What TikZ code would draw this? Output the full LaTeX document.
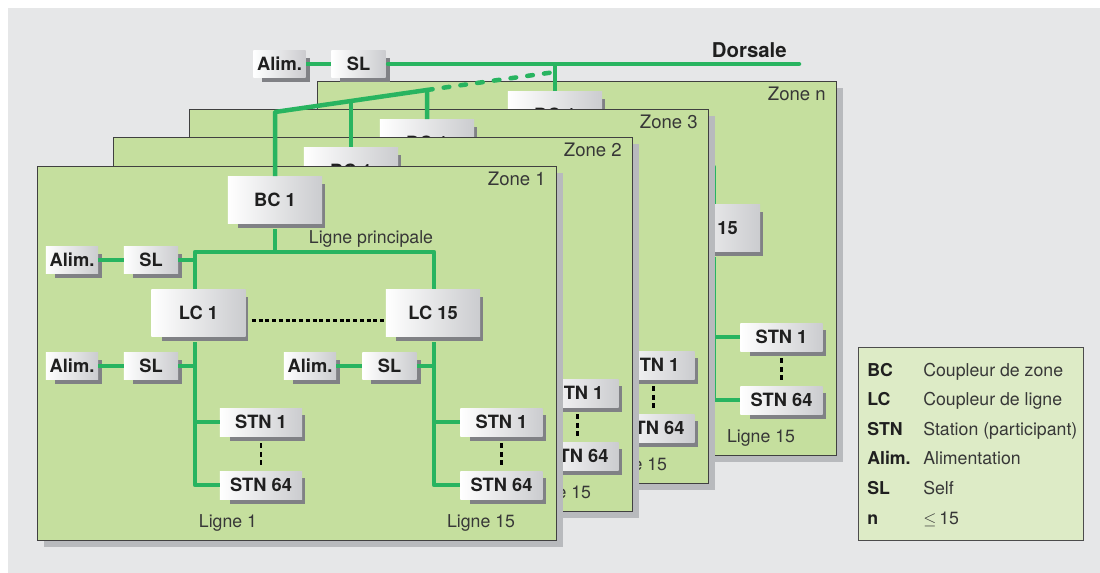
\documentclass[tikz,border=0pt]{standalone}
\usepackage{fontspec}
\setmainfont{TeX Gyre Heros}
\definecolor{bggray}{RGB}{230,231,232}
\definecolor{zonegreen}{RGB}{197,223,158}
\definecolor{legendgreen}{RGB}{221,235,198}
\definecolor{zoneshadow}{RGB}{184,186,189}
\definecolor{boxgray}{RGB}{203,204,207}
\definecolor{boxshadow}{RGB}{128,129,133}
\definecolor{busgreen}{RGB}{40,180,96}
\definecolor{inkgray}{RGB}{55,55,55}
\usetikzlibrary{shadows}
\tikzset{
	unit/.style={rectangle, inner sep=0pt, left color=white, right color=boxgray, text=black!88, font=\fontsize{13}{15}\selectfont\bfseries, drop shadow={shadow xshift=5pt, shadow yshift=-4.6pt, shadow scale=0.92, fill=boxshadow, opacity=1}},
	coupler/.style={unit, minimum width=2.35cm, minimum height=1.175cm},
	station/.style={unit, minimum width=2.05cm, minimum height=0.7cm},
	supply/.style={unit, minimum width=1.3cm, minimum height=0.66cm},
	choke/.style={unit, minimum width=1.35cm, minimum height=0.66cm},
	zonebox/.style={draw=black!75, line width=0.7pt, fill=zonegreen},
	zonelabel/.style={anchor=base east, inner sep=0pt, text=inkgray, font=\fontsize{13.2}{15}\selectfont},
	linelabel/.style={anchor=base, inner sep=0pt, text=inkgray, font=\fontsize{12.6}{14}\selectfont},
	bus/.style={draw=busgreen, line width=3.2pt, line join=round},
	dots/.style={draw=black, line width=2.1pt, dash pattern=on 2.8pt off 2pt},
	vdots/.style={draw=black, line width=2.1pt, dash pattern=on 3.5pt off 2.6pt, shorten <=5pt, shorten >=3pt},
	legkey/.style={anchor=base west, inner sep=0pt, text=black!88, font=\fontsize{12.6}{15}\selectfont\bfseries},
	legtext/.style={anchor=base west, inner sep=0pt, text=inkgray, font=\fontsize{12.6}{15}\selectfont},
}
\begin{document}
\begin{tikzpicture}[x=0.025cm, y=-0.025cm]
	\useasboundingbox (0,0) rectangle (1100,573);
	\fill[bggray] (8,8) rectangle (1100,573);

	% zones, back to front
	\foreach \z/\dx/\dy/\zname in {n/280/-85/Zone n, 3/152/-57/Zone 3, 2/76/-29/Zone 2, 1/0/0/Zone 1}{
		\begin{scope}[shift={(\dx,\dy)}]
			\fill[zoneshadow] (44,173) rectangle (563,547);
			\draw[zonebox] (37,166) rectangle (556,540);
			\node[zonelabel] (zl\z) at (546,185) {\zname};
			\coordinate (lpA\z) at (195,252);
			\coordinate (lpB\z) at (434,252);
			\node[coupler] (bc\z) at (275,200) {BC 1};
			\node[coupler] (lcA\z) at (198.5,313) {LC 1};
			\node[coupler] (lcB\z) at (433,313) {LC 15};
			\node[supply] (alimA\z) at (72,260) {Alim.};
			\node[choke] (slA\z) at (151,260) {SL};
			\node[supply] (alimC\z) at (72,366) {Alim.};
			\node[choke] (slC\z) at (151,366) {SL};
			\node[supply] (alimD\z) at (310,366) {Alim.};
			\node[choke] (slD\z) at (389.5,366) {SL};
			\node[station] (stnA1\z) at (261,422) {STN 1};
			\node[station] (stnA64\z) at (261,485) {STN 64};
			\node[station] (stnB1\z) at (501.5,422) {STN 1};
			\node[station] (stnB64\z) at (501.5,485) {STN 64};
			\node[linelabel] (lp\z) at (371,243) {Ligne principale};
			\node[linelabel] (lgA\z) at (228,527) {Ligne 1};
			\node[linelabel] (lgB\z) at (481,527) {Ligne 15};
			% bus lines
			\draw[bus, shorten <=4pt] (bc\z.south) -- (bc\z.south |- lpA\z);
			\draw[bus] (lcA\z.north -| lpA\z) -- (lpA\z) -- (lpB\z) -- (lcB\z.north -| lpB\z);
			\draw[bus, shorten <=4pt] (lcA\z.south -| lpA\z) -- (stnA64\z.west -| lpA\z) -- (stnA64\z.west);
			\draw[bus] (stnA1\z.west -| lpA\z) -- (stnA1\z.west);
			\draw[bus, shorten <=4pt] (lcB\z.south -| lpB\z) -- (stnB64\z.west -| lpB\z) -- (stnB64\z.west);
			\draw[bus] (stnB1\z.west -| lpB\z) -- (stnB1\z.west);
			\draw[bus] (alimA\z) -- (slA\z);
			\draw[bus] (slA\z) -- (slA\z -| lpA\z);
			\draw[bus] (alimC\z) -- (slC\z);
			\draw[bus] (slC\z) -- (slC\z -| lpA\z);
			\draw[bus] (alimD\z) -- (slD\z);
			\draw[bus] (slD\z) -- (slD\z -| lpB\z);
			\draw[dots] ([xshift=4.3pt, yshift=-5pt]lcA\z.east) -- ([yshift=-5pt]lcB\z.west);
			\draw[vdots] (stnA1\z.south) -- (stnA64\z.north);
			\draw[vdots] (stnB1\z.south) -- (stnB64\z.north);
		\end{scope}
	}

	% backbone
	\node[supply] (alimT) at (279.5,64) {Alim.};
	\node[choke] (slT) at (358.5,64) {SL};
	\coordinate (dors) at (799,64);
	\node[anchor=base east, inner sep=0pt, text=black!88, font=\fontsize{14.5}{16}\selectfont\bfseries] (dorsale) at (787,57) {Dorsale};
	\draw[bus] (alimT) -- (slT);
	\draw[bus, line cap=round, shorten <=1.6pt] (slT) -- (dors);
	\coordinate (j1) at (275,112);
	\coordinate (j2) at (351,101);
	\coordinate (j3) at (427,90);
	\coordinate (jn) at (555,72);
	\draw[bus] (bc1.north) -- (j1) -- (j3) -- (bc3.north);
	\draw[bus] (j2) -- (bc2.north);
	\draw[bus, line cap=round, dash pattern=on 4pt off 8pt] (j3) -- (jn);
	\draw[bus] (bcn.north) -- (bcn.north |- dors);

	% legend
	\node[draw=black!70, line width=0.7pt, fill=legendgreen, anchor=north west, minimum width=5.625cm, minimum height=4.825cm] (legend) at (858,347) {};
	\foreach \k/\v [count=\i from 0] in {BC/Coupleur de zone, LC/Coupleur de ligne, STN/Station (participant), Alim./Alimentation, SL/Self, n/$\leq$\,15}{
		\node[legkey] (key\i) at (867,376+29.6*\i) {\k};
		\node[legtext] (val\i) at (923,376+29.6*\i) {\v};
	}
\end{tikzpicture}
\end{document}
